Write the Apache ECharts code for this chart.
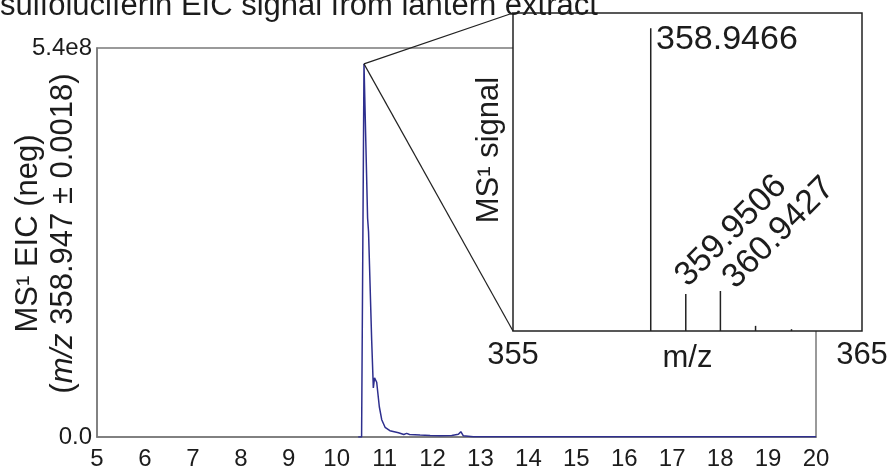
<!DOCTYPE html>
<html>
<head>
<meta charset="utf-8">
<script src="https://cdn.jsdelivr.net/npm/echarts@6/dist/echarts.min.js"></script>
<style>
  html, body { margin: 0; padding: 0; background: #fff; }
  #chart { width: 892px; height: 467px; }
</style>
</head>
<body>
<div id="chart"></div>
<script>
// Extracted ion chromatogram, m/z 358.947 ± 0.0018 (negative mode)
const retentionTime = [10.45, 10.52, 10.57, 10.645, 10.665, 10.73, 10.765, 10.79, 10.835, 10.89, 10.94, 11.01, 11.11, 11.29, 11.40, 11.46, 11.52, 11.74, 11.95, 12.16, 12.40, 12.54, 12.59, 12.64, 12.85, 13.20, 14.0, 15.0, 16.0, 17.0, 18.0, 19.0, 20.0];
const eicIntensity = [0, 0, 5.18e8, 3.04e8, 2.85e8, 1.35e8, 0.68e8, 0.82e8, 0.76e8, 0.42e8, 0.24e8, 0.135e8, 0.087e8, 0.06e8, 0.035e8, 0.05e8, 0.035e8, 0.028e8, 0.022e8, 0.018e8, 0.02e8, 0.037e8, 0.074e8, 0.018e8, 0.005e8, 0.003e8, 0.002e8, 0.002e8, 0.002e8, 0.002e8, 0.003e8, 0.002e8, 0.002e8];
const yTickLabels = ['0.0', '5.4e8'];

// MS1 spectrum at the apex (relative intensity)
const peakMz = [358.9466, 359.9506, 360.9427, 361.95, 362.98];
const peakIntensity = [100, 12.2, 13.2, 1.7, 0.6];
const peakLabels = ['358.9466', '359.9506', '360.9427', '', ''];
const insetTickLabels = ['355', '365'];

const FONT = '"Liberation Sans", Arial, Helvetica, sans-serif';
const INK = '#1c1c1c';
const insetMin = 355, insetMax = 365, insetTop = 105;

const chart = echarts.init(document.getElementById('chart'), null, { renderer: 'canvas' });

const labelPlacement = [
  { position: [6, -6], rotate: 0, align: 'left', verticalAlign: 'top' },
  { position: [-4, -13], rotate: 45, align: 'left', verticalAlign: 'middle' },
  { position: [9, -8], rotate: 45, align: 'left', verticalAlign: 'middle' },
  null, null
];

const spectrumData = peakMz.map((mz, i) => {
  const item = { value: [mz, peakIntensity[i]] };
  const p = labelPlacement[i];
  if (p && peakLabels[i]) {
    item.label = {
      show: true,
      formatter: peakLabels[i],
      position: p.position,
      rotate: p.rotate,
      align: p.align,
      verticalAlign: p.verticalAlign,
      fontFamily: FONT,
      fontSize: 34,
      color: INK
    };
  }
  return item;
});

const option = {
  animation: false,
  backgroundColor: '#fff',
  title: {
    text: 'sulfoluciferin EIC signal from lantern extract',
    left: 0,
    top: -9,
    padding: 0,
    textStyle: { fontFamily: FONT, fontSize: 31, fontWeight: 'normal', color: INK }
  },
  grid: [
    {
      left: 97, top: 48, right: 76, bottom: 30,
      containLabel: false, outerBoundsMode: 'none',
      show: true, borderColor: '#7a7a7a', borderWidth: 1.5, z: 0
    },
    {
      left: 513, top: 13, width: 349, height: 318,
      containLabel: false, outerBoundsMode: 'none',
      show: true, backgroundColor: '#fff', borderColor: '#222', borderWidth: 1.5, z: 1
    }
  ],
  xAxis: [
    {
      gridIndex: 0, type: 'value', min: 5, max: 20, interval: 1,
      axisLine: { show: true, lineStyle: { color: '#7a7a7a', width: 1.5 } },
      axisTick: { show: false },
      splitLine: { show: false },
      axisLabel: { fontFamily: FONT, fontSize: 24, color: INK, margin: 10 }
    },
    {
      gridIndex: 1, type: 'value', min: insetMin, max: insetMax, interval: 5,
      axisLine: { show: false },
      axisTick: { show: false },
      splitLine: { show: false },
      axisLabel: {
        fontFamily: FONT, fontSize: 31, color: INK, margin: 9,
        showMinLabel: true, showMaxLabel: true,
        formatter: v => insetTickLabels.includes(String(v)) ? String(v) : ''
      },
      name: 'm/z', nameLocation: 'middle', nameGap: 12, nameMoveOverlap: false,
      nameTextStyle: { fontFamily: FONT, fontSize: 31, color: INK, verticalAlign: 'top' }
    }
  ],
  yAxis: [
    {
      gridIndex: 0, type: 'value', min: 0, max: 5.4e8, interval: 5.4e8,
      axisLine: { show: true, lineStyle: { color: '#7a7a7a', width: 1.5 } },
      axisTick: { show: false },
      splitLine: { show: false },
      axisLabel: {
        fontFamily: FONT, fontSize: 24, color: INK, margin: 5,
        formatter: (v, i) => yTickLabels[i]
      },
      name: '{n|MS¹ EIC (neg)}\n{n|(}{i|m/z}{n| 358.947 ± 0.0018)}',
      nameLocation: 'middle', nameRotate: 90, nameGap: 16, nameMoveOverlap: false,
      nameTextStyle: {
        padding: [0, 0, 0, 18],
        rich: {
          n: { fontFamily: FONT, fontSize: 31, color: INK, lineHeight: 35 },
          i: { fontFamily: FONT, fontSize: 31, color: INK, fontStyle: 'italic', lineHeight: 35 }
        }
      }
    },
    {
      gridIndex: 1, type: 'value', min: 0, max: insetTop,
      axisLine: { show: false },
      axisTick: { show: false },
      splitLine: { show: false },
      axisLabel: { show: false },
      name: 'MS¹ signal', nameLocation: 'middle', nameRotate: 90, nameGap: 8, nameMoveOverlap: false,
      nameTextStyle: { fontFamily: FONT, fontSize: 31, color: INK, padding: [0, 0, 0, 44] }
    }
  ],
  series: [
    {
      type: 'line',
      xAxisIndex: 0, yAxisIndex: 0,
      data: retentionTime.map((t, i) => [t, eicIntensity[i]]),
      showSymbol: false,
      symbol: 'none',
      lineStyle: { color: '#2e2f8e', width: 1.5 },
      z: 3
    },
    {
      type: 'bar',
      xAxisIndex: 1, yAxisIndex: 1,
      data: spectrumData,
      barWidth: 1.5,
      itemStyle: { color: '#222' },
      z: 3
    }
  ]
};

chart.setOption(option);

// Zoom connectors from the chromatogram apex to the spectrum panel corners
const apexIdx = eicIntensity.indexOf(Math.max(...eicIntensity));
const apex = chart.convertToPixel({ gridIndex: 0 }, [retentionTime[apexIdx], eicIntensity[apexIdx]]);
const cornerTop = chart.convertToPixel({ gridIndex: 1 }, [insetMin, insetTop]);
const cornerBottom = chart.convertToPixel({ gridIndex: 1 }, [insetMin, 0]);

chart.setOption({
  graphic: [
    {
      type: 'line', z: 10,
      shape: { x1: apex[0], y1: apex[1], x2: cornerTop[0], y2: cornerTop[1] },
      style: { stroke: '#222', lineWidth: 1.2 }
    },
    {
      type: 'line', z: 10,
      shape: { x1: apex[0], y1: apex[1], x2: cornerBottom[0], y2: cornerBottom[1] },
      style: { stroke: '#222', lineWidth: 1.2 }
    }
  ]
});
</script>
</body>
</html>
